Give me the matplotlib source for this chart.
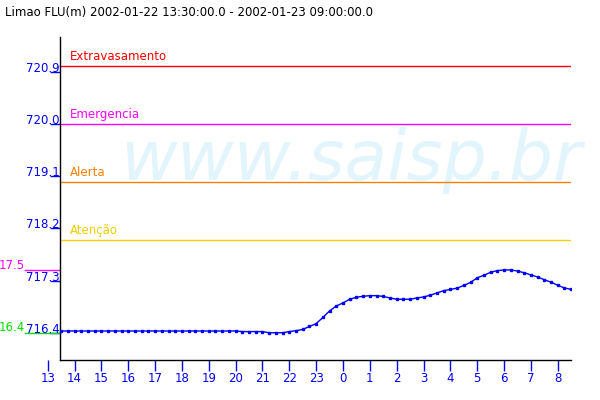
import numpy as np
import matplotlib
matplotlib.use("Agg")
import matplotlib.pyplot as plt

# ── Data ─────────────────────────────────────────────────────────────────────
# hours since 2002-01-22 00:00, one reading every 15 minutes (13:30 → 08:30)
hours = np.arange(13.5, 32.5 + 0.01, 0.25)
level = [
    # 13:30 – 20:00
    716.43, 716.43, 716.43, 716.43, 716.43, 716.43, 716.43, 716.43, 716.43,
    716.43, 716.43, 716.43, 716.43, 716.43, 716.43, 716.43, 716.43, 716.43,
    716.43, 716.43, 716.43, 716.43, 716.43, 716.43, 716.43, 716.43, 716.43,
    # 20:15 – 21:45
    716.42, 716.42, 716.42, 716.42, 716.40, 716.40, 716.40,
    # 22:00 – 23:45
    716.42, 716.436, 716.457, 716.509, 716.557, 716.664, 716.776, 716.862,
    # 00:00 – 01:45
    716.914, 716.978, 717.012, 717.029, 717.040, 717.040, 717.026, 717.000,
    # 02:00 – 03:45
    716.978, 716.978, 716.978, 717.000, 717.017, 717.047, 717.086, 717.126,
    # 04:00 – 05:45
    717.147, 717.169, 717.216, 717.267, 717.348, 717.391, 717.443, 717.472,
    # 06:00 – 07:45
    717.483, 717.483, 717.464, 717.434, 717.398, 717.360, 717.314, 717.271,
    # 08:00 – 08:30
    717.219, 717.172, 717.147,
]

thresholds = [721.0, 720.0, 719.0, 718.0]
threshold_names = ["Extravasamento", "Emergencia", "Alerta", "Atenção"]
threshold_colors = ["#ff0000", "#ff00ff", "#ff8000", "#f0d000"]

ytick_vals = [716.4, 717.3, 718.2, 719.1, 720.0, 720.9]
xtick_hours = list(range(13, 33))
title = "Limao FLU(m) 2002-01-22 13:30:00.0 - 2002-01-23 09:00:00.0"

# ── Layout ───────────────────────────────────────────────────────────────────
BLUE = "#0000ff"
SPINE_X = 13.45      # where the y axis line sits (data hours)
MARK_X0 = 12.15      # left end of the max/min markers
FS = 8.5

fig = plt.figure(figsize=(6, 4), dpi=100)
ax = fig.add_axes([0.0795, 0.1, 0.8725, 0.8075])
ax.set_xlim(13.0, 32.5)
ax.set_ylim(715.93, 721.5)

ax.spines["top"].set_visible(False)
ax.spines["right"].set_visible(False)
ax.spines["left"].set_position(("data", SPINE_X))
ax.spines["bottom"].set_bounds(SPINE_X, 32.5)
for s in ("left", "bottom"):
    ax.spines[s].set_color("black")
    ax.spines[s].set_linewidth(1.0)

# watermark
ax.text(0.138, 0.557, "www.saisp.br", transform=ax.transAxes,
        fontsize=50, style="italic", color="#e2f4fc", ha="left",
        va="baseline", zorder=0, clip_on=False)

# threshold lines
for v, name, c in zip(thresholds, threshold_names, threshold_colors):
    ax.plot([SPINE_X, 32.5], [v, v], color=c, linewidth=1.0, zorder=2)
    ax.annotate(name, xy=(13.83, v), xytext=(0, 2), textcoords="offset points",
                color=c, fontsize=FS, ha="left", va="bottom")

# water level
ax.plot(hours, level, color=BLUE, linewidth=1.0, marker="s", markersize=1.6,
        zorder=3)

# max / min markers left of the axis
vmax, vmin = max(level), min(level)
for v, c in ((vmax, "#ff00ff"), (vmin, "#00e000")):
    ax.plot([MARK_X0, SPINE_X], [v, v], color=c, linewidth=1.0, clip_on=False)
    ax.annotate(f"{v:.1f}"[1:], xy=(MARK_X0, v), xytext=(0, 1),
                textcoords="offset points", color=c, fontsize=FS,
                ha="right", va="baseline", annotation_clip=False)

# y ticks (labels sit on top of the tick marks)
ax.set_yticks(ytick_vals)
ax.set_yticklabels([])
ax.tick_params(axis="y", direction="out", length=7.2, color=BLUE, width=1)
for v in ytick_vals:
    ax.annotate(f"{v:.1f}", xy=(SPINE_X, v), xytext=(0, 0),
                textcoords="offset points", color=BLUE, fontsize=FS,
                ha="right", va="baseline", annotation_clip=False)

# x ticks
ax.set_xticks(xtick_hours)
ax.set_xticklabels([str(h % 24) for h in xtick_hours], color=BLUE, fontsize=FS)
ax.tick_params(axis="x", direction="out", length=8, color=BLUE, width=1, pad=1)

fig.text(0.008, 0.96, title, fontsize=FS, color="black", ha="left",
         va="baseline")

fig.savefig("out.png", dpi=100)
